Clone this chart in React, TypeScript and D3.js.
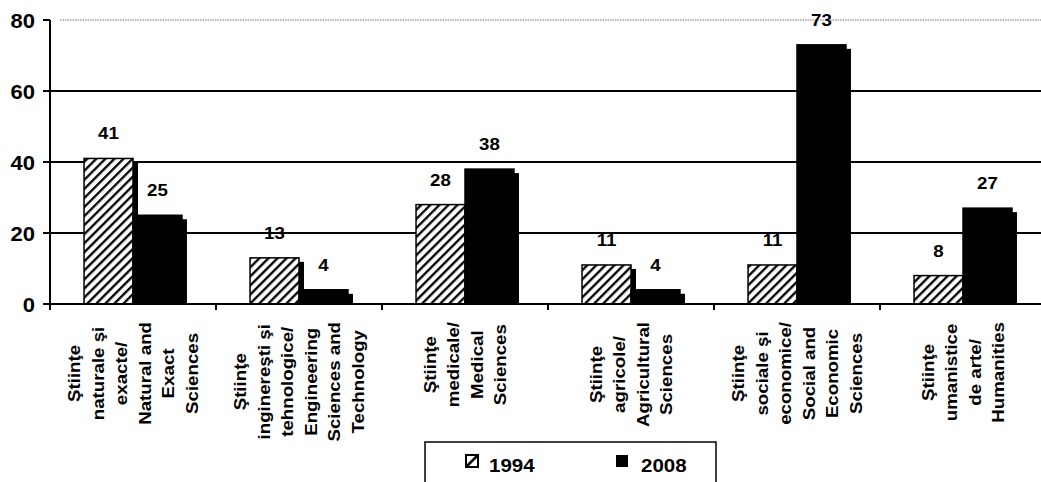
import React, { useEffect, useRef } from 'react';
import * as d3 from 'd3';

const categories = ['natural', 'engineering', 'medical', 'agricultural', 'social', 'humanities'];
const categoryLabels: string[][] = [
  ['Ştiinţe', 'naturale şi', 'exacte/', 'Natural and', 'Exact', 'Sciences'],
  ['Ştiinţe', 'inginereşti şi', 'tehnologice/', 'Engineering', 'Sciences and', 'Technology'],
  ['Ştiinţe', 'medicale/', 'Medical', 'Sciences'],
  ['Ştiinţe', 'agricole/', 'Agricultural', 'Sciences'],
  ['Ştiinţe', 'sociale şi', 'economice/', 'Social and', 'Economic', 'Sciences'],
  ['Ştiinţe', 'umanistice', 'de arte/', 'Humanities'],
];
const series = ['1994', '2008'];
const values1994 = [41, 13, 28, 11, 11, 8];
const values2008 = [25, 4, 38, 4, 73, 27];
const yTicks = [0, 20, 40, 60, 80];

const W = 1041;
const H = 482;
const FONT = '"Liberation Sans", Arial, sans-serif';

export default function App() {
  const ref = useRef<SVGSVGElement | null>(null);

  useEffect(() => {
    const svg = d3.select(ref.current);
    svg.selectAll('*').remove();

    const x0 = d3.scaleBand<string>().domain(categories).range([50, 1046]).paddingInner(0.41).paddingOuter(0.205);
    const x1 = d3.scaleBand<string>().domain(series).range([0, x0.bandwidth()]).padding(0);
    const y = d3.scaleLinear().domain([0, 80]).range([304, 20]);

    const defs = svg.append('defs');
    const pat = defs.append('pattern')
      .attr('id', 'hatch')
      .attr('patternUnits', 'userSpaceOnUse')
      .attr('width', 6.4)
      .attr('height', 6.4)
      .attr('patternTransform', 'rotate(45)');
    pat.append('rect').attr('width', 6.4).attr('height', 6.4).attr('fill', '#fff');
    pat.append('line').attr('x1', 1.2).attr('x2', 1.2).attr('y1', 0).attr('y2', 6.4)
      .attr('stroke', '#000').attr('stroke-width', 2.3);

    const left = 43;
    const right = W;

    // gridlines
    yTicks.forEach((t) => {
      if (t === 0) return;
      const yy = y(t);
      if (t === 80) {
        svg.append('line').attr('x1', 60).attr('x2', right).attr('y1', yy).attr('y2', yy)
          .attr('stroke', '#777').attr('stroke-width', 1).attr('stroke-dasharray', '1.5 1');
        svg.append('line').attr('x1', left).attr('x2', 50).attr('y1', yy).attr('y2', yy)
          .attr('stroke', '#000').attr('stroke-width', 2);
      } else {
        svg.append('line').attr('x1', left).attr('x2', right).attr('y1', yy).attr('y2', yy)
          .attr('stroke', '#000').attr('stroke-width', 1.8);
      }
    });

    // y tick labels
    yTicks.forEach((t) => {
      svg.append('g')
        .attr('transform', `translate(35,${y(t) + 7.5}) scale(1.1,1)`)
        .append('text')
        .attr('text-anchor', 'end')
        .attr('font-family', FONT)
        .attr('font-weight', 'bold')
        .attr('font-size', 20)
        .attr('fill', '#000')
        .text(String(t));
    });

    const data = categories.map((c, i) => ({ c, vals: [values1994[i], values2008[i]] }));

    // shadows
    const sdx = 5, sdy = 4;
    data.forEach((d) => {
      d.vals.forEach((v, si) => {
        const bx = (x0(d.c) || 0) + (x1(series[si]) || 0);
        const top = y(v);
        svg.append('rect')
          .attr('x', bx + sdx).attr('y', top + sdy)
          .attr('width', x1.bandwidth()).attr('height', Math.max(0, y(0) - top - sdy))
          .attr('fill', '#000');
      });
    });

    // bars
    data.forEach((d) => {
      d.vals.forEach((v, si) => {
        const bx = (x0(d.c) || 0) + (x1(series[si]) || 0);
        const top = y(v);
        svg.append('rect')
          .attr('x', bx).attr('y', top)
          .attr('width', x1.bandwidth()).attr('height', y(0) - top)
          .attr('fill', si === 0 ? 'url(#hatch)' : '#000')
          .attr('stroke', '#000').attr('stroke-width', 1.5);
      });
    });

    // baseline and y axis
    svg.append('line').attr('x1', left).attr('x2', right).attr('y1', y(0)).attr('y2', y(0))
      .attr('stroke', '#000').attr('stroke-width', 2);
    svg.append('line').attr('x1', 50).attr('x2', 50).attr('y1', y(80)).attr('y2', y(0) + 6)
      .attr('stroke', '#000').attr('stroke-width', 2);

    // category ticks
    const step = x0.step();
    for (let i = 1; i <= categories.length; i++) {
      const xx = 50 + i * step;
      svg.append('line').attr('x1', xx).attr('x2', xx).attr('y1', y(0)).attr('y2', y(0) + 6)
        .attr('stroke', '#000').attr('stroke-width', 2);
    }

    // data labels
    data.forEach((d) => {
      d.vals.forEach((v, si) => {
        const cx = (x0(d.c) || 0) + (x1(series[si]) || 0) + x1.bandwidth() / 2;
        svg.append('g')
          .attr('transform', `translate(${cx},${y(v) - 19}) scale(1.1,1)`)
          .append('text')
          .attr('text-anchor', 'middle')
          .attr('font-family', FONT)
          .attr('font-weight', 'bold')
          .attr('font-size', 17)
          .attr('fill', '#000')
          .text(String(v));
      });
    });

    // category labels (rotated)
    const sx = 1.1;
    const lineGap = 23.5;
    categories.forEach((c, ci) => {
      const lines = categoryLabels[ci];
      const cx = (x0(c) || 0) + x0.bandwidth() / 2;
      const groups = lines.map((ln) => {
        const g = svg.append('g');
        const t = g.append('text')
          .attr('text-anchor', 'middle')
          .attr('dy', '0.36em')
          .attr('font-family', FONT)
          .attr('font-weight', 'bold')
          .attr('font-size', 17)
          .attr('fill', '#000')
          .text(ln);
        return { g, t };
      });
      let maxLen = 0;
      groups.forEach(({ t }) => {
        const n = t.node() as SVGTextElement;
        maxLen = Math.max(maxLen, n.getComputedTextLength() * sx);
      });
      const cy = 322 + maxLen / 2;
      groups.forEach(({ g }, li) => {
        const lx = cx + (li - (lines.length - 1) / 2) * lineGap;
        g.attr('transform', `translate(${lx},${cy}) rotate(-90) scale(${sx},1)`);
      });
    });

    // legend
    const lg = svg.append('g');
    lg.append('rect').attr('x', 425).attr('y', 442).attr('width', 291).attr('height', 50)
      .attr('fill', '#fff').attr('stroke', '#000').attr('stroke-width', 1.5);
    const items = [
      { name: series[0], sqx: 466, tx: 489 },
      { name: series[1], sqx: 616, tx: 641 },
    ];
    items.forEach((it, i) => {
      if (i === 0) {
        lg.append('rect').attr('x', it.sqx).attr('y', 455).attr('width', 12).attr('height', 12)
          .attr('fill', '#fff').attr('stroke', '#000').attr('stroke-width', 2);
        lg.append('path').attr('d', `M${it.sqx},${467} L${it.sqx + 12},${455} L${it.sqx},${455} Z`)
          .attr('fill', 'none');
        lg.append('line').attr('x1', it.sqx + 1).attr('y1', 466).attr('x2', it.sqx + 11).attr('y2', 456)
          .attr('stroke', '#000').attr('stroke-width', 2.5);
      } else {
        lg.append('rect').attr('x', it.sqx).attr('y', 455).attr('width', 12).attr('height', 12)
          .attr('fill', '#000');
      }
      lg.append('g')
        .attr('transform', `translate(${it.tx},${472}) scale(1.08,1)`)
        .append('text')
        .attr('font-family', FONT)
        .attr('font-weight', 'bold')
        .attr('font-size', 19)
        .attr('fill', '#000')
        .text(it.name);
    });
  }, []);

  return (
    <svg
      ref={ref}
      width={W}
      height={H}
      style={{ position: 'absolute', left: 0, top: 0, background: '#fff' }}
    />
  );
}
